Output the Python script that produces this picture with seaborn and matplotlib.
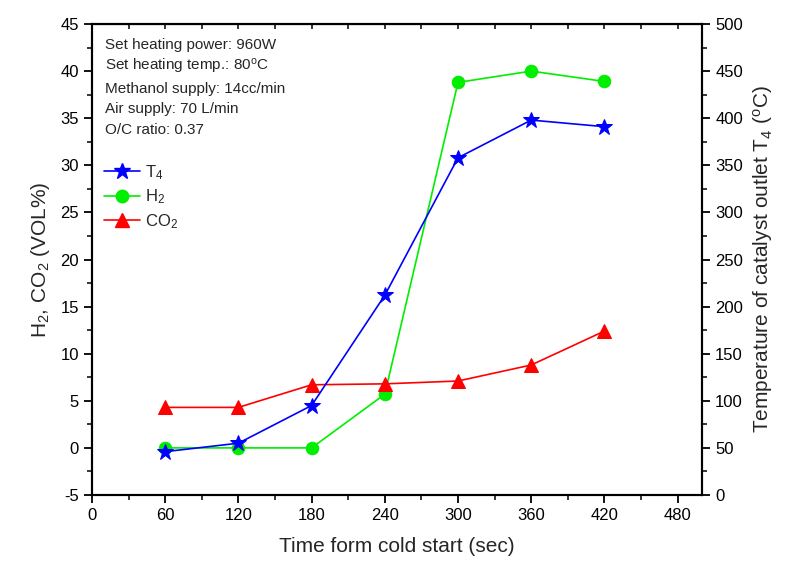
import matplotlib
matplotlib.use("Agg")
import matplotlib.pyplot as plt
import seaborn as sns
import pandas as pd
from matplotlib.ticker import MultipleLocator
from matplotlib.lines import Line2D

time_s = [60, 120, 180, 240, 300, 360, 420]
h2 = [0.0, 0.0, 0.0, 5.7, 38.8, 40.0, 38.9]
co2 = [4.3, 4.3, 6.7, 6.8, 7.1, 8.8, 12.4]
t4 = [46, 55, 95, 212, 358, 398, 391]

sns.set_style("ticks")
plt.rcParams['font.family'] = ['Liberation Sans', 'DejaVu Sans']
plt.rcParams['mathtext.fontset'] = 'custom'
plt.rcParams['mathtext.rm'] = 'Liberation Sans'
plt.rcParams['mathtext.it'] = 'Liberation Sans'
plt.rcParams['axes.unicode_minus'] = False

df = pd.DataFrame({"time": time_s, "H2": h2, "CO2": co2, "T4": t4})

fig = plt.figure(figsize=(7.89, 5.72), dpi=100)
ax = fig.add_axes([92/789, 1-495/572, (702-92)/789, (495-24)/572])
ax2 = ax.twinx()

blue, green, red = "#0000ff", "#00ee00", "#ff0000"

sns.lineplot(data=df, x="time", y="H2", ax=ax, color=green, marker="o",
             markersize=9, markeredgecolor=green, linewidth=1.2)
sns.lineplot(data=df, x="time", y="CO2", ax=ax, color=red, marker="^",
             markersize=10, markeredgecolor=red, linewidth=1.2)
sns.lineplot(data=df, x="time", y="T4", ax=ax2, color=blue, marker="*",
             markersize=12, markeredgecolor=blue, linewidth=1.2)

ax.set_xlim(0, 500)
ax.set_ylim(-5, 45)
ax2.set_ylim(0, 500)

ax.xaxis.set_major_locator(MultipleLocator(60))
ax.xaxis.set_minor_locator(MultipleLocator(30))
ax.yaxis.set_major_locator(MultipleLocator(5))
ax.yaxis.set_minor_locator(MultipleLocator(2.5))
ax2.yaxis.set_major_locator(MultipleLocator(50))
ax2.yaxis.set_minor_locator(MultipleLocator(25))

for a in (ax, ax2):
    for s in a.spines.values():
        s.set_visible(True)
        s.set_linewidth(1.5)
        s.set_color("black")

ax.tick_params(axis="both", which="major", direction="out", length=6, width=1.3,
               labelsize=12, colors="black")
ax.tick_params(axis="both", which="minor", direction="out", length=3.5, width=1.3)
ax2.tick_params(axis="y", which="major", direction="out", length=6, width=1.3,
                labelsize=12, colors="black")
ax2.tick_params(axis="y", which="minor", direction="out", length=3.5, width=1.3)

# top ticks inward via secondary axis
sec = ax.secondary_xaxis("top")
sec.xaxis.set_major_locator(MultipleLocator(60))
sec.xaxis.set_minor_locator(MultipleLocator(30))
sec.tick_params(which="both", direction="in", length=3.5, width=1.3, labeltop=False)
ax.tick_params(axis="x", which="both", top=False)

ax.set_xlabel("Time form cold start (sec)", fontsize=15, labelpad=10)
ax.set_ylabel(r"H$_2$, CO$_2$ (VOL%)", fontsize=15, labelpad=6)
ax2.set_ylabel(r"Temperature of catalyst outlet T$_4$ ($^{\mathrm{o}}$C)", fontsize=15, labelpad=6)

info = ["Set heating power: 960W",
        r"Set heating temp.: 80$^{\mathrm{o}}$C",
        "Methanol supply: 14cc/min",
        "Air supply: 70 L/min",
        "O/C ratio: 0.37"]
ys = [45, 67, 89, 109, 130]
for t, yy in zip(info, ys):
    fig.text(105/789, 1-yy/572, t, fontsize=11, va="center", ha="left")

handles = [
    Line2D([], [], color=blue, marker="*", markersize=12, markeredgecolor=blue, linewidth=1.2),
    Line2D([], [], color=green, marker="o", markersize=9, markeredgecolor=green, linewidth=1.2),
    Line2D([], [], color=red, marker="^", markersize=10, markeredgecolor=red, linewidth=1.2),
]
labels = [r"T$_4$", r"H$_2$", r"CO$_2$"]
ax2.legend(handles, labels, loc="upper left", bbox_to_anchor=(0.0, 0.73),
           frameon=False, fontsize=12, handlelength=2.2, handletextpad=0.3,
           labelspacing=0.35, borderaxespad=0.3)

fig.savefig("out.png", dpi=100)
